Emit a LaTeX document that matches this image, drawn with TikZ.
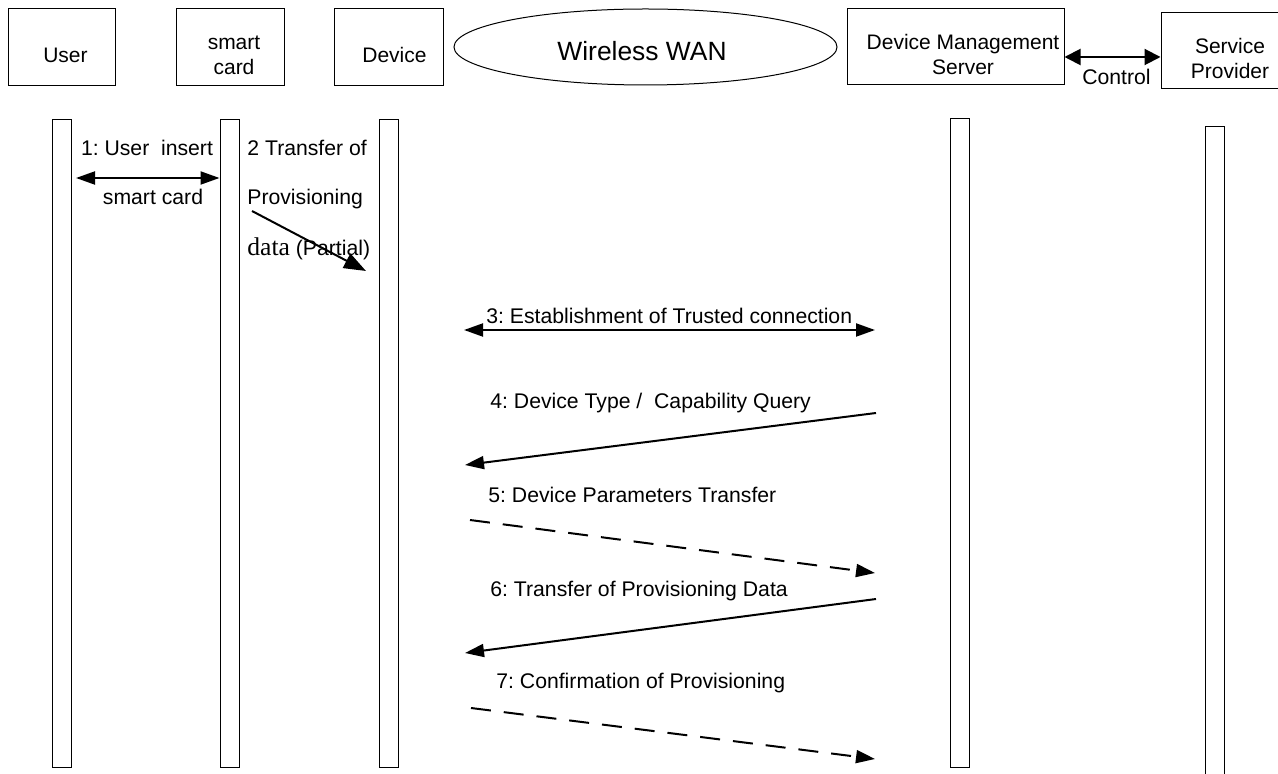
\documentclass[tikz,border=0pt]{standalone}
\usepackage{fontspec}
\setmainfont{Liberation Sans}
\newfontfamily\seriffont{Liberation Serif}
\usetikzlibrary{arrows.meta,shapes.geometric}
\frenchspacing

\tikzset{
	head/.style={draw, line width=0.5pt, inner sep=0pt, minimum height=38.5pt},
	headtxt/.style={align=center, font=\fontsize{10.5}{12.5}\selectfont, xshift=2pt, yshift=-4pt},
	life/.style={draw, line width=0.5pt, inner sep=0pt, minimum width=9.5pt},
	lbl/.style={font=\fontsize{10.6}{12.5}\selectfont, inner sep=0pt, text depth=0pt},
	msg/.style={line width=1pt, -{Triangle[length=9.5pt,width=6.5pt]}},
	both/.style={line width=1pt, {Triangle[length=9.5pt,width=6.5pt]}-{Triangle[length=9.5pt,width=6.5pt]}},
	ret/.style={msg, dash pattern=on 10pt off 6.5pt}
}

\begin{document}
\begin{tikzpicture}[x=0.5pt, y=-0.5pt]
		
		\useasboundingbox (0,0) rectangle (1278,774);
		
		% heads
		\node[head, minimum width=53.5pt, label={[headtxt]center:User}] (user) at (61.5,47.5) {};
		\node[head, minimum width=54pt, label={[headtxt]center:smart\\card}] (card) at (230,47.5) {};
		\node[head, minimum width=54.5pt, label={[headtxt, xshift=1pt]center:Device}] (dev) at (388.5,47.5) {};
		\node[draw, ellipse, line width=0.5pt, inner sep=0pt, minimum width=191.5pt, minimum height=38pt,
			label={[font=\fontsize{13.2}{15}\selectfont, xshift=-1.75pt, yshift=-2.2pt]center:Wireless WAN}] (wan) at (645.5,47) {};
		\node[head, minimum width=108.5pt, minimum height=38pt, label={[headtxt, xshift=1.75pt]center:Device Management\\Server}] (dms) at (955.5,47) {};
		\node[head, minimum width=69pt, minimum height=38pt, label={[headtxt, xshift=-2pt]center:Service\\Provider}] (sp) at (1230,51) {};
		
		\coordinate (c) at (0,57);
		\draw[line width=1pt, {Triangle[length=8pt,width=8pt]}-{Triangle[length=8pt,width=8pt]}] (dms.east |- c) -- (sp.west |- c);
		\node[lbl] (ctl) at (1116.5,77) {Control};
		
		% lifelines
		\node[life, minimum height=323.5pt] (userL) at (61.5,443.5) {};
		\node[life, minimum height=323.5pt] (cardL) at (229.5,443.5) {};
		\node[life, minimum height=323.5pt] (devL) at (388.5,443.5) {};
		\node[life, minimum height=324pt] (dmsL) at (959.5,443) {};
		\node[life, minimum height=327pt] (spL) at (1214.5,454) {};
		
		% message ends
		\coordinate (a1) at (76,178);
		\coordinate (a2) at (252,211);
		\coordinate (b2) at (366,271);
		\coordinate (a3) at (464,330);
		\coordinate (b3) at (875,330);
		\coordinate (a4) at (876,413);
		\coordinate (b4) at (465,465);
		\coordinate (a5) at (470,520);
		\coordinate (b5) at (875,573);
		\coordinate (a6) at (876,599);
		\coordinate (b6) at (465,653);
		\coordinate (a7) at (471,708);
		\coordinate (b7) at (875,759);
		
		% labels
		\node[lbl] (l1) at (147,148) {1: User\ \ insert};
		\node[lbl] (l1b) at (153,197) {smart card};
		\node[lbl, anchor=west] (l2) at (247,148) {2 Transfer of};
		\node[lbl, anchor=west] (l2b) at (247,197) {Provisioning};
		\node[lbl, anchor=west] (l2c) at (247,247) {{\seriffont\fontsize{12.8}{14}\selectfont data} (Partial)};
		\node[lbl, anchor=west] (l3) at (486,316) {3: Establishment of Trusted connection};
		\node[lbl, anchor=west] (l4) at (490,401) {4: Device Type /\ \ Capability Query};
		\node[lbl, anchor=west] (l5) at (488,495) {5: Device Parameters Transfer};
		\node[lbl, anchor=west] (l6) at (490,589) {6: Transfer of Provisioning Data};
		\node[lbl, anchor=west] (l7) at (496,681) {7: Confirmation of Provisioning};
		
		% messages
		\draw[both] (a1) -- (cardL.west |- a1);
		\draw[line width=1pt, -{Triangle[length=11pt,width=8pt]}] (a2) -- (b2);
		\draw[both] (a3) -- (b3);
		\draw[msg] (a4) -- (b4);
		\draw[ret] (a5) -- (b5);
		\draw[msg] (a6) -- (b6);
		\draw[ret] (a7) -- (b7);
		
	\end{tikzpicture}
\end{document}
